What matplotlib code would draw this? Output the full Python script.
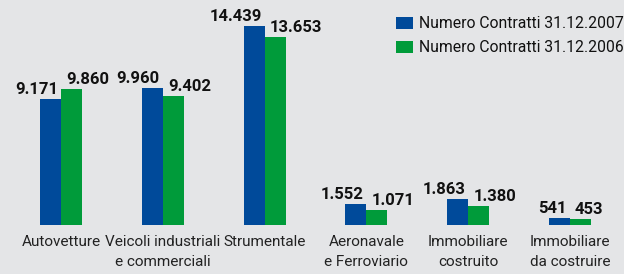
import matplotlib
matplotlib.use("Agg")
import matplotlib.pyplot as plt
from matplotlib.patches import Rectangle

categories = ["Autovetture", "Veicoli industriali\ne commerciali", "Strumentale",
              "Aeronavale\ne Ferroviario", "Immobiliare\ncostruito", "Immobiliare\nda costruire"]
values_2007 = [9171, 9960, 14439, 1552, 1863, 541]
values_2006 = [9860, 9402, 13653, 1071, 1380, 453]
labels_2007 = ["9.171", "9.960", "14.439", "1.552", "1.863", "541"]
labels_2006 = ["9.860", "9.402", "13.653", "1.071", "1.380", "453"]
series_names = ["Numero Contratti 31.12.2007", "Numero Contratti 31.12.2006"]

BLUE = "#004a9a"
GREEN = "#009b3a"
BG = "#e4e5e7"
FONT = ["Roboto", "DejaVu Sans"]

fig = plt.figure(figsize=(6.24, 2.74), dpi=100, facecolor=BG)
ax = fig.add_axes([0, 49 / 274, 1, 225 / 274])
ax.set_facecolor(BG)
for s in ax.spines.values():
    s.set_visible(False)
ax.set_xticks([])
ax.set_yticks([])

pitch = 101.8
w = 21 / pitch
ax.set_xlim(-61 / pitch, (624 - 61) / pitch)
ax.set_ylim(0, 16340)

x = list(range(len(categories)))
ax.bar([i - w / 2 for i in x], values_2007, width=w, color=BLUE, linewidth=0)
ax.bar([i + w / 2 for i in x], values_2006, width=w, color=GREEN, linewidth=0)

for i in x:
    ax.annotate(labels_2007[i], xy=(i, values_2007[i]), xytext=(-3, 5),
                textcoords="offset pixels", ha="right", va="baseline",
                fontsize=12, fontweight="bold", family=FONT, color="#111111")
    ax.annotate(labels_2006[i], xy=(i, values_2006[i]), xytext=(5, 5),
                textcoords="offset pixels", ha="left", va="baseline",
                fontsize=12, fontweight="bold", family=FONT, color="#111111")
    ax.annotate(categories[i], xy=(i, 0), xytext=(0, -10),
                textcoords="offset pixels", ha="center", va="top",
                fontsize=11, family=FONT, color="#222222", linespacing=1.5,
                annotation_clip=False)

# legend
for k, (name, col) in enumerate(zip(series_names, [BLUE, GREEN])):
    yc = 274 - (23 + 24 * k)
    fig.patches.append(Rectangle((396 / 624, (yc - 6) / 274), 17 / 624, 12 / 274,
                                 transform=fig.transFigure, color=col, lw=0))
    fig.text(419 / 624, yc / 274, name, ha="left", va="center",
             fontsize=11.3, family=FONT, color="#111111")

fig.savefig("out.png", dpi=100, facecolor=BG)
